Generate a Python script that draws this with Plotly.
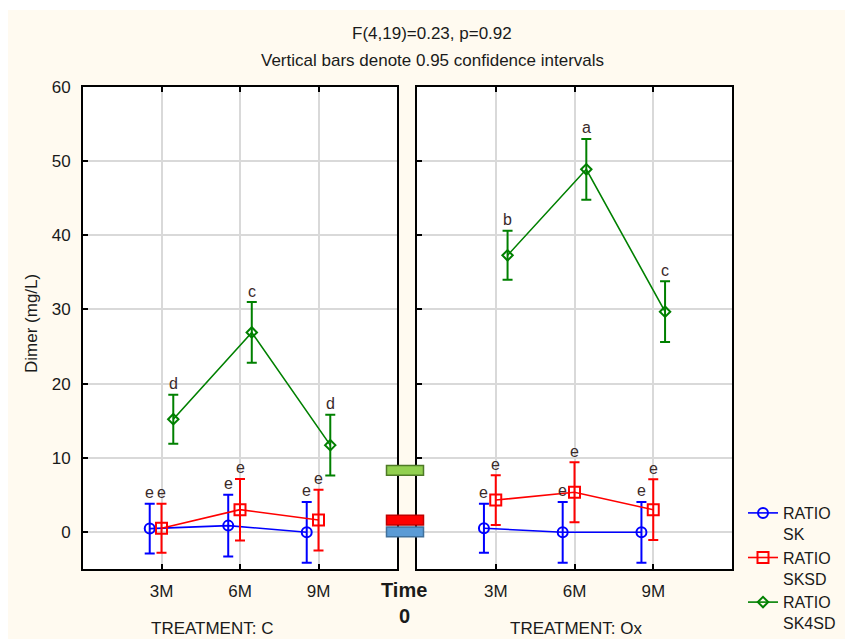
import plotly.graph_objects as go

W, H = 845, 639

# ---------------- data ----------------
times = ["3M", "6M", "9M"]
time_pos = [1, 2, 3]
series_names = ["RATIO<br>SK", "RATIO<br>SKSD", "RATIO<br>SK4SD"]
series_colors = ["#0000FF", "#FF0000", "#008000"]
series_symbols = ["circle-open", "square-open", "diamond-open"]
series_sizes = [10, 11, 8]
series_offset = [-0.15, 0.0, 0.15]

# TREATMENT: C
c_mean = {
    "SK":    [0.45, 0.85, -0.05],
    "SKSD":  [0.5, 3.0, 1.6],
    "SK4SD": [15.2, 26.9, 11.7],
}
c_err = {
    "SK":    [3.35, 4.15, 4.1],
    "SKSD":  [3.3, 4.15, 4.1],
    "SK4SD": [3.3, 4.1, 4.1],
}
c_letters = {
    "SK":    ["e", "e", "e"],
    "SKSD":  ["e", "e", "e"],
    "SK4SD": ["d", "c", "d"],
}
# TREATMENT: Ox
ox_mean = {
    "SK":    [0.5, -0.05, -0.05],
    "SKSD":  [4.3, 5.35, 3.0],
    "SK4SD": [37.3, 48.9, 29.7],
}
ox_err = {
    "SK":    [3.3, 4.1, 4.1],
    "SKSD":  [3.35, 4.05, 4.1],
    "SK4SD": [3.3, 4.1, 4.1],
}
ox_letters = {
    "SK":    ["e", "e", "e"],
    "SKSD":  ["e", "e", "e"],
    "SK4SD": ["b", "a", "c"],
}
keys = ["SK", "SKSD", "SK4SD"]

# Time 0 baseline values
time0_values = [0.0, 1.6, 8.3]
time0_fill = ["#5B9BD5", "#FF0000", "#92D050"]
time0_line = ["#41719C", "#C00000", "#4E7A27"]

y_ticks = [0, 10, 20, 30, 40, 50, 60]

FONT = "Liberation Sans, Arial, sans-serif"
TXT = "#1a1a1a"

def px_x(p):
    return p / W

def px_y(p):
    return 1 - p / H

fig = go.Figure()

panels = [("x", "y", c_mean, c_err, c_letters), ("x2", "y2", ox_mean, ox_err, ox_letters)]
annotations = []
for pi, (xa, ya, means, errs, letters) in enumerate(panels):
    for si, k in enumerate(keys):
        xs = [t + series_offset[si] for t in time_pos]
        fig.add_trace(go.Scatter(
            x=xs, y=means[k], xaxis=xa, yaxis=ya,
            mode="lines+markers",
            name=series_names[si],
            showlegend=(pi == 0),
            line=dict(color=series_colors[si], width=1.6),
            marker=dict(symbol=series_symbols[si], size=series_sizes[si],
                        color=series_colors[si], line=dict(width=2, color=series_colors[si])),
            error_y=dict(type="data", array=errs[k], visible=True,
                         color=series_colors[si], thickness=2, width=5),
        ))
        for xi, (xv, m, e, lt) in enumerate(zip(xs, means[k], errs[k], letters[k])):
            annotations.append(dict(
                x=xv, y=m + e, xref=xa, yref=ya, text=lt, showarrow=False,
                yshift=11, xanchor="center", yanchor="middle",
                font=dict(family=FONT, size=16, color="#3a2a2a"),
            ))

axis_common = dict(
    showline=True, linecolor="black", linewidth=2,
    gridcolor="#D9D9D9", gridwidth=1.5, zeroline=False,
    ticks="inside", ticklen=5, tickcolor="black", tickwidth=1.5,
)
fig.update_layout(
    xaxis=dict(domain=[px_x(83), px_x(397)], range=[0, 4], anchor="y",
               tickvals=time_pos, ticktext=times, mirror="ticks",
               tickfont=dict(family=FONT, size=17, color=TXT),
               ticklabelstandoff=6, **axis_common),
    xaxis2=dict(domain=[px_x(417), px_x(732)], range=[0, 4], anchor="y2",
                tickvals=time_pos, ticktext=times, mirror="ticks",
                tickfont=dict(family=FONT, size=17, color=TXT),
                ticklabelstandoff=6, **axis_common),
    yaxis=dict(domain=[px_y(569), px_y(87)], range=[-5, 60], anchor="x",
               tickvals=y_ticks, tickfont=dict(family=FONT, size=17, color=TXT),
               ticklabelstandoff=7, mirror=True, **axis_common),
    yaxis2=dict(domain=[px_y(569), px_y(87)], range=[-5, 60], anchor="x2",
                tickvals=y_ticks, showticklabels=False, mirror=True,
                **axis_common),
    yaxis3=dict(overlaying="y", side="right", anchor="x", range=[0, 12], dtick=1,
                ticks="inside", ticklen=5, tickcolor="black", tickwidth=1.5,
                showticklabels=False, showgrid=False, zeroline=False, showline=False),
    yaxis4=dict(overlaying="y2", side="right", anchor="x2", range=[0, 12], dtick=1,
                ticks="inside", ticklen=5, tickcolor="black", tickwidth=1.5,
                showticklabels=False, showgrid=False, zeroline=False, showline=False),
)

shapes = [
    dict(type="rect", xref="paper", yref="paper", x0=0, x1=px_x(8), y0=0, y1=1,
         fillcolor="white", line=dict(width=0), layer="below"),
    dict(type="rect", xref="paper", yref="paper", x0=0, x1=1, y0=px_y(10), y1=1,
         fillcolor="white", line=dict(width=0), layer="below"),
]
# Time 0 reference bars
for v, fc, lc in zip(time0_values, time0_fill, time0_line):
    shapes.append(dict(type="rect", xref="paper", yref="y",
                       x0=px_x(386.5), x1=px_x(423.5), y0=v - 0.65, y1=v + 0.65,
                       fillcolor=fc, line=dict(color=lc, width=1.5), layer="above"))

def label(x, y, text, size=17, angle=0):
    return dict(x=px_x(x), y=px_y(y), xref="paper", yref="paper", text=text,
                showarrow=False, xanchor="center", yanchor="middle", textangle=angle,
                font=dict(family=FONT, size=size, color=TXT))

annotations += [
    label(432, 34, "F(4,19)=0.23, p=0.92"),
    label(432, 60, "Vertical bars denote 0.95 confidence intervals"),
    label(31, 323, "Dimer (mg/L)", angle=-90),
    label(212, 628, "TREATMENT: C"),
    label(576, 628, "TREATMENT: Ox"),
    label(404, 590, "<b>Time</b>", size=20),
    label(404, 616, "<b>0</b>", size=20),
]

fig.update_layout(
    width=W, height=H,
    margin=dict(l=0, r=0, t=0, b=0, autoexpand=False),
    paper_bgcolor="#FFFAF0", plot_bgcolor="white",
    font=dict(family=FONT, size=17, color=TXT),
    showlegend=True,
    legend=dict(x=px_x(743), y=px_y(496), xanchor="left", yanchor="top",
                bgcolor="rgba(0,0,0,0)", valign="top",
                font=dict(family=FONT, size=16, color=TXT)),
    shapes=shapes,
    annotations=annotations,
)

fig.write_html("out.html")
